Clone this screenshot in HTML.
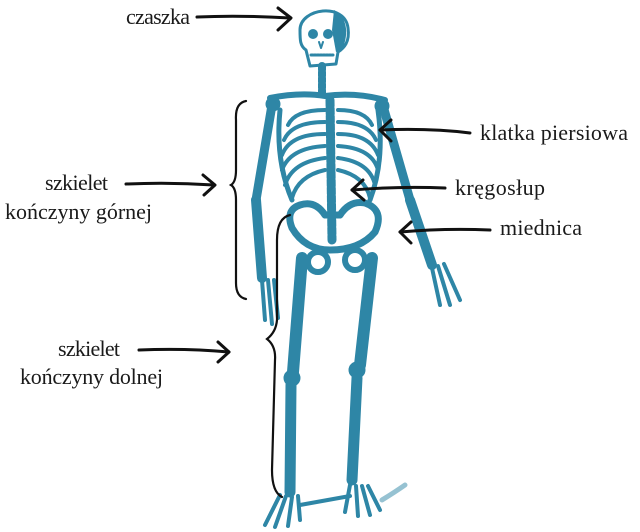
<!DOCTYPE html>
<html><head><meta charset="utf-8"><style>
html,body{margin:0;padding:0;background:#fff;}
svg{display:block;}
text{font-family:"Liberation Serif",serif;font-size:22px;fill:#1a1a1a;}
</style></head><body>
<svg width="640" height="532" viewBox="0 0 640 532" xmlns="http://www.w3.org/2000/svg">
<g fill="none" stroke="#2e86a6" stroke-linecap="round" stroke-linejoin="round">
 <path d="M300 30 C300 8 345 2 348 28 C350 42 344 48 338 52 L336 64 L310 66 L306 50 C300 46 300 40 300 30Z" fill="#fff" stroke-width="3"/>
 <path d="M334 10 C346 16 350 32 342 50 L336 52 L332 30Z" fill="#2e86a6" stroke="none"/>
 <ellipse cx="313" cy="34" rx="5" ry="5" fill="#2e86a6" stroke="none"/>
 <ellipse cx="328" cy="34" rx="5" ry="5" fill="#2e86a6" stroke="none"/>
 <path d="M319 42 L321 48 L323 42" stroke-width="2"/>
 <path d="M311 55 L333 55" stroke-width="3" stroke-dasharray="2 1"/>
 <path d="M322 66 L322 96" stroke-width="8" stroke-dasharray="4 2"/>
 <path d="M330 100 L332 240" stroke-width="9" stroke-dasharray="6 2"/>
 <path d="M270 98 Q300 92 325 96 Q355 92 385 100" stroke-width="6"/>
 <g stroke-width="4">
  <path d="M325 110 Q295 110 288 125"/><path d="M325 122 Q292 122 284 140"/>
  <path d="M325 134 Q290 134 282 155"/><path d="M325 146 Q290 148 282 170"/>
  <path d="M325 158 Q292 162 285 185"/><path d="M325 170 Q298 176 292 198"/>
  <path d="M338 110 Q365 110 372 125"/><path d="M338 122 Q368 122 376 140"/>
  <path d="M338 134 Q370 134 378 155"/><path d="M338 146 Q372 148 378 170"/>
  <path d="M338 158 Q370 162 375 185"/><path d="M338 170 Q365 176 370 198"/>
 </g>
 <path d="M330 100 L330 165" stroke-width="6"/>
 <path d="M280 110 Q275 160 292 200 M378 110 Q385 160 370 200" stroke-width="5"/>
 <path d="M300 205 Q285 210 292 228 Q305 250 330 250 Q360 250 375 232 Q385 210 365 203 Q350 200 340 215 L325 215 Q315 200 300 205Z" stroke-width="7"/>
 <circle cx="318" cy="262" r="10" stroke-width="6"/>
 <circle cx="355" cy="260" r="10" stroke-width="6"/>
 <circle cx="273" cy="104" r="7" fill="#2e86a6"/>
 <path d="M272 105 L256 200" stroke-width="9"/>
 <path d="M256 200 L262 278" stroke-width="10"/>
 <path d="M262 280 L265 320 M268 280 L272 324 M274 280 L278 318" stroke-width="4"/>
 <circle cx="382" cy="106" r="7" fill="#2e86a6"/>
 <path d="M383 106 L410 200" stroke-width="9"/>
 <path d="M410 200 L432 265" stroke-width="10"/>
 <path d="M432 268 L440 305 M438 266 L450 305 M444 264 L460 300" stroke-width="4"/>
 <path d="M302 258 L293 372" stroke-width="12"/>
 <circle cx="292" cy="378" r="8" fill="#2e86a6"/>
 <path d="M291 385 L290 492" stroke-width="11"/>
 <path d="M372 258 L360 365" stroke-width="12"/>
 <circle cx="357" cy="370" r="8" fill="#2e86a6"/>
 <path d="M357 378 L352 480" stroke-width="11"/>
 <path d="M280 495 L265 525 M286 496 L275 527 M292 497 L288 526 M298 496 L300 520" stroke-width="4"/>
 <path d="M350 485 L345 512 M356 486 L358 516 M362 486 L370 515 M368 486 L380 510" stroke-width="4"/>
 <path d="M300 505 L350 496" stroke-width="4"/>
 <path d="M382 500 Q395 492 405 485" stroke-width="5" opacity="0.5"/>
</g>
<g fill="none" stroke="#111" stroke-width="2.2" stroke-linecap="round">
 <path d="M246 101 Q235 103 236 120 L236 170 Q236 182 231 185 Q236 188 236 200 L236 283 Q236 297 246 299"/>
 <path d="M290 215 Q277 218 277 240 L277 320 Q276 332 267 339 Q276 346 275 360 L272 470 Q272 492 282 497"/>
</g>
<g fill="none" stroke="#111" stroke-width="3" stroke-linecap="round" stroke-linejoin="round">
 <path d="M197 17 Q240 15 290 18"/><path d="M278 8 L291 18 L278 30"/>
 <path d="M126 184 Q170 182 214 185"/><path d="M203 175 L215 185 L204 195"/>
 <path d="M139 350 Q185 348 229 352"/><path d="M218 342 L229 352 L218 362"/>
 <path d="M470 133 Q430 128 380 130"/><path d="M391 120 L380 130 L391 141"/>
 <path d="M445 188 Q400 186 352 190"/><path d="M363 180 L352 190 L364 200"/>
 <path d="M490 230 Q445 228 400 232"/><path d="M411 222 L400 232 L411 243"/>
</g>
<text x="126" y="24" textLength="64">czaszka</text>
<text x="480" y="140" textLength="148">klatka piersiowa</text>
<text x="455" y="195" textLength="90">kręgosłup</text>
<text x="500" y="235" textLength="82">miednica</text>
<text x="45" y="190" textLength="63">szkielet</text>
<text x="5" y="219" textLength="147">kończyny górnej</text>
<text x="58" y="356" textLength="62">szkielet</text>
<text x="20" y="384" textLength="143">kończyny dolnej</text>
</svg>
</body></html>
